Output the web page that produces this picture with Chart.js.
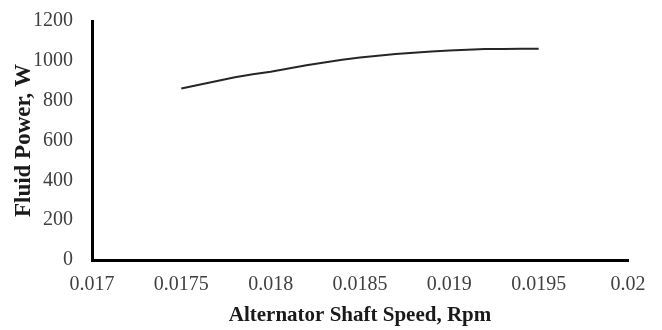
<!DOCTYPE html>
<html>
<head>
<meta charset="utf-8">
<script src="https://cdn.jsdelivr.net/npm/chart.js@4"></script>
<style>
  body { margin: 0; background: #fff; }
  #wrap { width: 662px; height: 330px; }
</style>
</head>
<body>
<div id="wrap"><canvas id="powerChart"></canvas></div>
<script>
// values
const shaftSpeed = [0.0175, 0.0176, 0.0177, 0.0178, 0.0179, 0.018, 0.0181, 0.0182, 0.0183, 0.0184, 0.0185,
    0.0186, 0.0187, 0.0188, 0.0189, 0.019, 0.0191, 0.0192, 0.0193, 0.0194, 0.0195];
const fluidPower = [861, 880, 899, 918, 933, 945, 962, 978, 992, 1006, 1017,
    1026, 1034, 1041, 1047, 1052, 1056, 1059, 1060, 1061, 1061];
const xTicks = [0.017, 0.0175, 0.018, 0.0185, 0.019, 0.0195, 0.02];
const yTicks = [0, 200, 400, 600, 800, 1000, 1200];

const serif = "'Liberation Serif', 'Times New Roman', serif";

let points = shaftSpeed.map((s, i) => ({ x: s, y: fluidPower[i] }));

let ctx = document.getElementById("powerChart").getContext("2d");
new Chart(ctx, {
    type: "line",
    data: {
        datasets: [{
            data: points,
            borderColor: "#262626",
            borderWidth: 2,
            pointRadius: 0,
            fill: false
        }]
    },
    options: {
        responsive: true,
        maintainAspectRatio: false,
        animation: false,
        layout: { padding: { left: 0, right: 34, top: 8, bottom: 0 } },
        plugins: { legend: { display: false }, tooltip: { enabled: false } },
        scales: {
            x: {
                type: "linear",
                min: xTicks[0],
                max: xTicks[xTicks.length - 1],
                afterBuildTicks: axis => { axis.ticks = xTicks.map(v => ({ value: v })); },
                afterFit: axis => { axis.height = 70; },
                grid: { display: false },
                border: { color: "#000", width: 3 },
                ticks: {
                    color: "#404040",
                    font: { family: serif, size: 20 },
                    padding: 5,
                    maxRotation: 0,
                    callback: v => String(parseFloat(v.toFixed(4)))
                },
                title: {
                    display: true,
                    text: "Alternator Shaft Speed, Rpm",
                    color: "#1a1a1a",
                    font: { family: serif, size: 21, weight: "bold" },
                    padding: { top: 0, bottom: 2 }
                }
            },
            y: {
                min: 0,
                max: 1200,
                afterBuildTicks: axis => { axis.ticks = yTicks.map(v => ({ value: v })); },
                afterFit: axis => { axis.width = 92; },
                grid: { display: false },
                border: { color: "#000", width: 3 },
                ticks: {
                    color: "#404040",
                    font: { family: serif, size: 20, lineHeight: 1 },
                    padding: 11,
                    callback: v => String(v)
                },
                title: {
                    display: true,
                    text: "Fluid Power, W",
                    color: "#1a1a1a",
                    font: { family: serif, size: 23, weight: "bold" },
                    padding: { top: 10, bottom: 0 }
                }
            }
        }
    }
});
</script>
</body>
</html>
